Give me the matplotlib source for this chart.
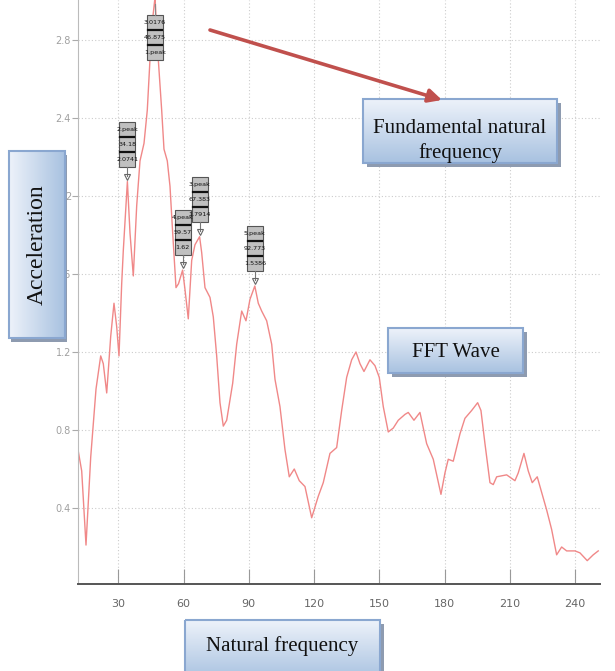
import numpy as np
import matplotlib
matplotlib.use("Agg")
import matplotlib.pyplot as plt
from matplotlib import font_manager
from matplotlib.patches import Rectangle

# FFT spectrum (frequency, acceleration)
freq = [11.15, 13.17, 15.15, 17.31, 19.75, 21.91, 23.10, 24.67, 26.51, 28.02,
        29.26, 30.32, 31.56, 32.30, 34.18, 35.38, 36.90, 38.46, 39.98, 41.82,
        43.33, 44.57, 45.72, 46.875, 48.39, 49.95, 51.01, 52.53, 53.77, 55.01,
        56.53, 57.68, 59.57, 60.67, 62.18, 63.75, 65.26, 67.383, 68.34, 69.86,
        72.16, 73.68, 75.24, 76.76, 78.28, 79.84, 82.60, 84.44, 86.74, 88.71,
        90.55, 92.773, 94.37, 95.93, 98.23, 100.53, 102.05, 104.34, 106.64, 108.62,
        110.92, 113.22, 115.84, 118.92, 121.95, 124.25, 127.33, 130.41, 132.71, 135.01,
        137.31, 139.29, 141.13, 142.97, 145.72, 148.02, 150.00, 151.84, 154.14, 156.44,
        158.74, 161.82, 163.33, 165.95, 168.71, 171.79, 174.83, 178.37, 180.21, 181.72,
        184.02, 187.10, 189.40, 192.48, 195.24, 196.76, 198.60, 200.90, 202.41, 203.98,
        208.57, 212.39, 213.91, 216.53, 218.51, 220.34, 222.64, 224.67, 226.97, 229.26,
        231.56, 233.86, 236.16, 239.98, 242.28, 245.63, 248.39, 250.69]
accel = [0.72, 0.59, 0.21, 0.66, 1.01, 1.18, 1.14, 0.99, 1.28, 1.45,
         1.33, 1.18, 1.55, 1.72, 2.0741, 1.81, 1.59, 1.95, 2.18, 2.27,
         2.44, 2.70, 2.90, 3.0176, 2.70, 2.44, 2.24, 2.18, 2.05, 1.81,
         1.53, 1.55, 1.62, 1.52, 1.37, 1.67, 1.75, 1.7914, 1.71, 1.53,
         1.48, 1.38, 1.18, 0.94, 0.82, 0.85, 1.04, 1.24, 1.41, 1.36,
         1.47, 1.5386, 1.45, 1.41, 1.36, 1.24, 1.06, 0.92, 0.70, 0.56,
         0.60, 0.54, 0.51, 0.35, 0.46, 0.53, 0.68, 0.71, 0.90, 1.07,
         1.16, 1.20, 1.14, 1.10, 1.16, 1.13, 1.07, 0.92, 0.79, 0.81,
         0.85, 0.88, 0.89, 0.85, 0.89, 0.73, 0.65, 0.47, 0.58, 0.65,
         0.64, 0.78, 0.86, 0.90, 0.94, 0.90, 0.73, 0.53, 0.52, 0.56,
         0.57, 0.54, 0.58, 0.68, 0.59, 0.53, 0.56, 0.48, 0.39, 0.29,
         0.16, 0.20, 0.18, 0.18, 0.17, 0.13, 0.16, 0.18]

# peak markers
peak_names = ["1.peak", "2.peak", "3.peak", "4.peak", "5.peak"]
peak_freq = [46.875, 34.18, 67.383, 59.57, 92.773]
peak_accel = [3.0176, 2.0741, 1.7914, 1.62, 1.5386]
peak_freq_txt = ["46.875", "34.18", "67.383", "59.57", "92.773"]
peak_accel_txt = ["3.0176", "2.0741", "1.7914", "1.62", "1.5386"]

x_ticks = [30, 60, 90, 120, 150, 180, 210, 240]
y_ticks = [0.4, 0.8, 1.2, 1.6, 2.0, 2.4, 2.8]

W, H = 615, 671
names = {f.name for f in font_manager.fontManager.ttflist}
narrow = "Liberation Sans Narrow" if "Liberation Sans Narrow" in names else "DejaVu Sans"
serif = "Liberation Serif"

fig = plt.figure(figsize=(W / 100, H / 100), dpi=100)
ax = fig.add_axes([78 / W, 87 / H, (600 - 78) / W, 584 / H])

ax.plot(freq, accel, color="#f08888", linewidth=1.0)
ax.set_xlim(11.47, 251.5)
ax.set_ylim(0.0103, 3.005)

ax.set_xticks(x_ticks)
ax.set_yticks(y_ticks)
ax.set_yticklabels(["%g" % v for v in y_ticks])
ax.grid(True, linestyle=(0, (1, 2)), color="#cccccc", linewidth=0.8)
for s in ["top", "right"]:
    ax.spines[s].set_visible(False)
ax.spines["left"].set_color("#bbbbbb")
ax.spines["bottom"].set_color("#555555")
ax.spines["bottom"].set_linewidth(1.4)
ax.tick_params(axis="x", direction="in", length=11, width=0.8, color="#999999",
               labelsize=8, labelcolor="#666666", pad=11)
ax.tick_params(axis="y", direction="out", length=4, width=0.8, color="#aaaaaa",
               labelsize=7, labelcolor="#a0a0a0", pad=1)
for lab in ax.get_xticklabels() + ax.get_yticklabels():
    lab.set_fontfamily(narrow)

# overlay in pixel coordinates (top-left origin) for the decorations
deco = fig.add_axes([0, 0, 1, 1], zorder=5)
deco.set_facecolor("none")
deco.axis("off")


def to_px(x, y):
    dx, dy = ax.transData.transform((x, y))
    return dx, H - dy


# peak label boxes
bw, rh = 16, 15
for i in range(len(peak_names)):
    px, py = to_px(peak_freq[i], peak_accel[i])
    if i == 0:
        top = 15
        rows = [peak_accel_txt[i], peak_freq_txt[i], peak_names[i]]
        deco.plot([px, px], [top, 4], color="#888888", lw=0.8)
    else:
        top = py - 15 - 3 * rh
        rows = [peak_names[i], peak_freq_txt[i], peak_accel_txt[i]]
        deco.plot([px, px], [top + 3 * rh, py - 6], color="#777777", lw=0.8)
        deco.plot(px, py - 5, marker="v", markersize=4, mfc="none", mec="#666666", mew=0.8)
    x0 = px - bw / 2
    deco.add_patch(Rectangle((x0, top), bw, 3 * rh, facecolor="#c0c0c0",
                             edgecolor="#555555", lw=0.8))
    for r, t in enumerate(rows):
        deco.text(px, top + rh * (r + 0.5), t, ha="center", va="center",
                  fontsize=4.6, color="#111111", family=narrow)
        if r > 0:
            deco.plot([x0 + 1, x0 + bw - 1], [top + rh * r] * 2, color="#111111", lw=1.6)


def grad_box(x0, y0, w, h, lines, size, rotate=False, ty=0.0, sh=4):
    # shadow
    deco.add_patch(Rectangle((x0 + sh, y0 + 4), w, h, facecolor="#8e9bb0", edgecolor="none"))
    c1 = np.array([0.93, 0.95, 0.98])
    c2 = np.array([0.66, 0.76, 0.88])
    t = np.linspace(0, 1, 64)
    g = c1[None, :] * (1 - t[:, None]) + c2[None, :] * t[:, None]
    img = g[None, :, :] if rotate else g[:, None, :]
    deco.imshow(img, extent=(x0, x0 + w, y0 + h, y0), aspect="auto",
                interpolation="bilinear", zorder=2)
    rect = Rectangle((x0, y0), w, h, facecolor="none", edgecolor="#8aa7d0",
                     lw=1.5, zorder=3)
    deco.add_patch(rect)
    txt = deco.text(x0 + w / 2, ty if ty else y0 + h / 2 + (0 if rotate else 2), lines,
                    ha="center", va="center", fontsize=size, family=serif,
                    color="#111111", rotation=90 if rotate else 0,
                    linespacing=1.35, zorder=4)
    txt.set_clip_path(rect)
    return txt


grad_box(9, 151, 56, 187, "Acceleration", 17, rotate=True, sh=2)
grad_box(363, 99, 194, 64, "Fundamental natural\nfrequency", 15, ty=141)
grad_box(388, 328, 135, 45, "FFT Wave", 15)
grad_box(185, 620, 195, 60, "Natural frequency", 15, ty=646)

deco.annotate("", xy=(442, 100), xytext=(210, 30),
              arrowprops=dict(arrowstyle="-|>", color="#c0504d", lw=2.6,
                              mutation_scale=20, shrinkA=0, shrinkB=0))

deco.set_xlim(0, W)
deco.set_ylim(H, 0)

fig.savefig("out.png", dpi=100)
